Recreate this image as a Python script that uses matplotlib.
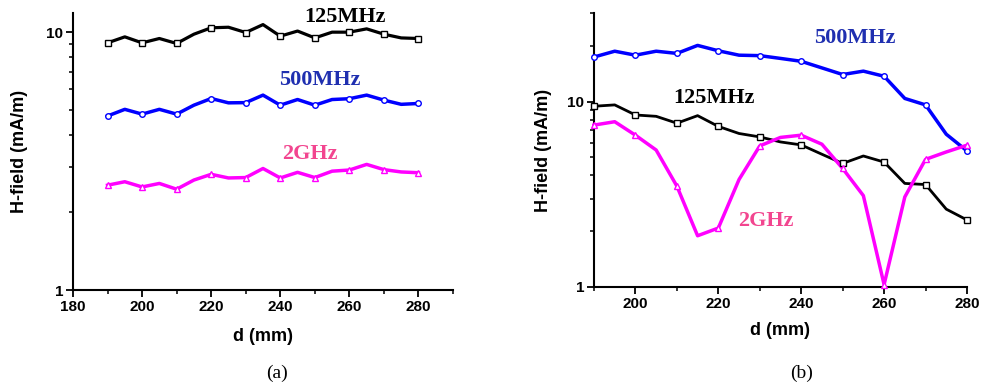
import matplotlib
matplotlib.use("Agg")
import matplotlib.pyplot as plt
from matplotlib.ticker import LogLocator, NullFormatter, FixedLocator

d = [190, 195, 200, 205, 210, 215, 220, 225, 230, 235, 240, 245, 250, 255, 260, 265, 270, 275, 280]

# Panel (a)
a_125 = [9.09, 9.59, 9.09, 9.45, 9.04, 9.82, 10.4, 10.45, 9.97, 10.7, 9.65, 10.1, 9.5, 10.0, 10.0, 10.3, 9.82, 9.5, 9.45]
a_500 = [4.73, 5.02, 4.81, 5.02, 4.81, 5.21, 5.53, 5.32, 5.33, 5.70, 5.21, 5.48, 5.21, 5.48, 5.52, 5.70, 5.45, 5.25, 5.29]
a_2g = [2.55, 2.63, 2.51, 2.59, 2.46, 2.67, 2.81, 2.72, 2.73, 2.96, 2.72, 2.86, 2.73, 2.89, 2.92, 3.07, 2.93, 2.87, 2.85]

# Panel (b)
b_125 = [9.44, 9.6, 8.47, 8.33, 7.65, 8.4, 7.35, 6.73, 6.45, 6.06, 5.84, 5.2, 4.64, 5.09, 4.72, 3.62, 3.57, 2.63, 2.30]
b_500 = [17.4, 18.7, 17.8, 18.7, 18.2, 20.1, 18.8, 17.8, 17.7, 17.1, 16.5, 15.2, 14.0, 14.6, 13.7, 10.4, 9.6, 6.67, 5.42]
b_2g = [7.47, 7.79, 6.59, 5.48, 3.50, 1.89, 2.08, 3.80, 5.77, 6.41, 6.59, 5.89, 4.36, 3.11, 1.03, 3.06, 4.88, 5.35, 5.82]

labels = ["125MHz", "500MHz", "2GHz"]
line_colors = ["black", "#0000ff", "#ff00ff"]
text_colors = ["black", "#1f2fb0", "#f2458f"]
markers = ["s", "o", "^"]

fig = plt.figure(figsize=(9.81, 3.87), dpi=100)
axA = fig.add_axes([0.0744, 0.2506, 0.3874, 0.7154])
axB = fig.add_axes([0.6055, 0.2584, 0.3802, 0.7076])

sans = ["Liberation Sans", "DejaVu Sans"]
serif = ["Liberation Serif", "DejaVu Serif"]

def style(ax, xlim, ylim, xmajor, xminor, xpad, ypad):
    ax.set_yscale("log")
    ax.set_xlim(*xlim)
    ax.set_ylim(*ylim)
    for s in ["top", "right"]:
        ax.spines[s].set_visible(False)
    for s in ["left", "bottom"]:
        ax.spines[s].set_linewidth(1.5)
    ax.xaxis.set_major_locator(FixedLocator(xmajor))
    ax.xaxis.set_minor_locator(FixedLocator(xminor))
    ax.yaxis.set_major_locator(LogLocator(base=10, numticks=10))
    ax.yaxis.set_minor_locator(LogLocator(base=10, subs=range(2, 10), numticks=10))
    ax.yaxis.set_minor_formatter(NullFormatter())
    ax.yaxis.set_major_formatter(matplotlib.ticker.FuncFormatter(lambda v, p: "%g" % v))
    ax.tick_params(which="major", direction="out", length=5, width=1.3, labelsize=11, pad=2)
    ax.tick_params(which="minor", direction="out", length=3, width=1.1)
    for t in ax.get_xticklabels() + ax.get_yticklabels():
        t.set_fontfamily(sans)
        t.set_fontweight("bold")
    ax.set_xlabel("d (mm)", fontfamily=sans, fontweight="bold", fontsize=13, labelpad=xpad)
    ax.set_ylabel("H-field (mA/m)", fontfamily=sans, fontweight="bold", fontsize=13, labelpad=ypad)

def plot_series(ax, series, lws, ms):
    for y, c, m, lw in zip(series, line_colors, markers, lws):
        ax.plot(d, y, color=c, lw=lw, zorder=2, clip_on=False)
        ax.plot(d[::2], y[::2], ls="none", marker=m, ms=ms, mfc="white", mec=c, mew=1.0, zorder=3, clip_on=False)

plot_series(axA, [a_125, a_500, a_2g], [2.3, 2.5, 2.5], 4.0)
style(axA, (180, 290), (1, 11.85), [180, 200, 220, 240, 260, 280], [190, 210, 230, 250, 270, 290], 10, 13)

plot_series(axB, [b_125, b_500, b_2g], [2.0, 2.5, 2.5], 4.0)
style(axB, (190, 280), (1, 30), [200, 220, 240, 260, 280], [190, 210, 230, 250, 270], 8, 11)

textA = [(258.6, 11.4), (251.4, 6.5), (248.5, 3.36)]
textB = [(218.9, 10.47), (253.0, 21.9), (231.4, 2.28)]
for ax, pos in [(axA, textA), (axB, textB)]:
    for (x, y), lab, c in zip(pos, labels, text_colors):
        ax.text(x, y, lab, color=c, fontfamily=serif, fontweight="bold", fontsize=16,
                ha="center", va="center")

fig.text(277 / 981, 1 - 373 / 387, "(a)", fontfamily=serif, fontsize=14, ha="center", va="center")
fig.text(802 / 981, 1 - 373 / 387, "(b)", fontfamily=serif, fontsize=14, ha="center", va="center")

fig.savefig("out.png", dpi=100)
